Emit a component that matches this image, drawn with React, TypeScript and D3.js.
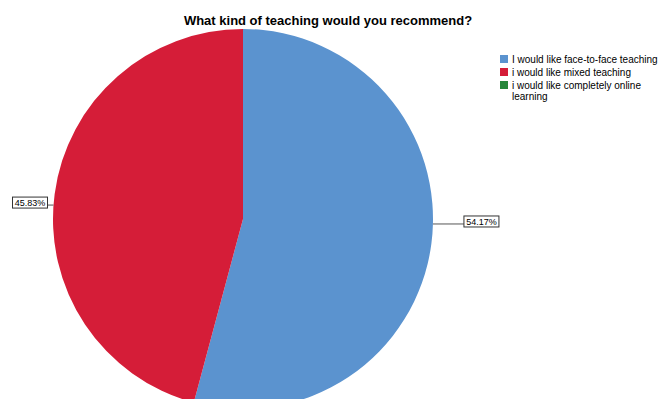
import React from "react";
import * as d3 from "d3";

const categories: string[] = [
  "I would like face-to-face teaching",
  "i would like mixed teaching",
  "i would like completely online learning",
];
const legendLines: string[][] = [
  ["I would like face-to-face teaching"],
  ["i would like mixed teaching"],
  ["i would like completely online", "learning"],
];
const percents: number[] = [54.17, 45.83, 0];
const colors: string[] = ["#5b93cf", "#d51d38", "#26873a"];
const title = "What kind of teaching would you recommend?";

const W = 665;
const H = 399;
const cx = 243;
const cy = 219;
const R = 190;

export default function App() {
  const pie = d3
    .pie<number>()
    .sort(null)
    .value((d) => d)(percents);
  const arc = d3.arc<d3.PieArcDatum<number>>().innerRadius(0).outerRadius(R);

  const labels = pie
    .filter((p) => p.data > 0)
    .map((p) => {
      const mid = (p.startAngle + p.endAngle) / 2;
      const right = Math.sin(mid) >= 0;
      const horiz = right ? Math.PI / 2 : (3 * Math.PI) / 2;
      const a = horiz + (mid - horiz) * (right ? 0.2 : 0.56);
      const sx = cx + R * Math.sin(a);
      const sy = cy - R * Math.cos(a);
      const ex = right ? sx + 31 : sx - 6;
      return { p, sx, sy, ex, right, text: p.data.toFixed(2) + "%" };
    });

  const font = "Liberation Sans, Arial, sans-serif";
  const rowH = 13;

  return (
    <svg
      width={W}
      height={H}
      style={{ position: "absolute", left: 0, top: 0, background: "#fff" }}
      fontFamily={font}
    >
      <text x={328} y={25} textAnchor="middle" fontWeight="bold" fontSize={13} fill="#000">
        {title}
      </text>
      <g>
        {pie.map((p, i) => (
          <path key={i} d={arc(p) || ""} transform={`translate(${cx},${cy})`} fill={colors[i]} />
        ))}
      </g>
      {labels.map((l, i) => {
        const bw = 35;
        const bh = 11;
        const bx = l.right ? l.ex : l.ex - bw;
        const by = l.sy - 8;
        return (
          <g key={i}>
            <line x1={l.sx} y1={l.sy} x2={l.ex} y2={l.sy} stroke="#555" strokeWidth={1} />
            <rect x={bx} y={by} width={bw} height={bh} fill="#fff" stroke="#333" strokeWidth={1} />
            <text x={bx + bw / 2} y={by + 9} textAnchor="middle" fontSize={9} fill="#000">
              {l.text}
            </text>
          </g>
        );
      })}
      <g transform="translate(500,55)">
        {categories.map((c, i) => (
          <g key={c} transform={`translate(0,${i * rowH})`}>
            <rect x={0} y={0} width={8} height={8} fill={colors[i]} />
            {legendLines[i].map((ln, j) => (
              <text key={j} x={12} y={8 + j * 10.5} fontSize={10} fill="#000">
                {ln}
              </text>
            ))}
          </g>
        ))}
      </g>
    </svg>
  );
}
